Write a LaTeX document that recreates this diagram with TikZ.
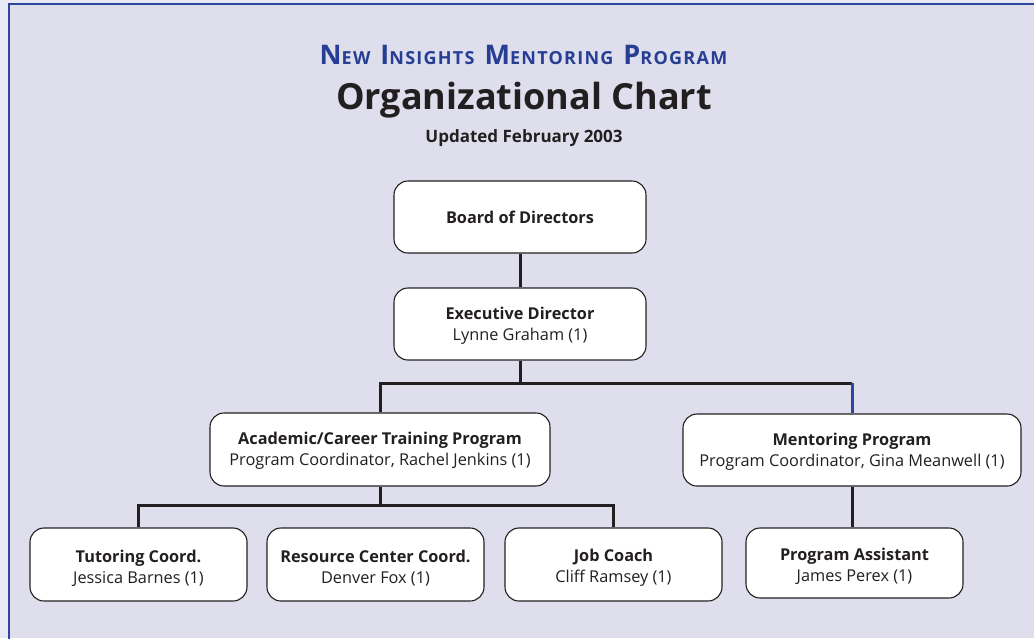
\documentclass[tikz,border=0pt]{standalone}
\usepackage{fontspec}
\setmainfont{Open Sans}
\definecolor{bgpage}{HTML}{E9E9F3}
\definecolor{lav}{HTML}{DEDEEC}
\definecolor{titleblue}{HTML}{263E93}
\definecolor{edgeblue}{HTML}{2D46A0}
\definecolor{ink}{HTML}{231F20}
\newcommand{\bigsc}[2]{{\fontsize{27}{27}\selectfont #1}{\fontsize{18}{20}\selectfont\addfontfeature{LetterSpace=7}#2}}
\newcommand{\lowstrut}{\rule{0pt}{19.5pt}}
\newcommand{\midstrut}{\rule{0pt}{15.5pt}}
\tikzset{
  orgbox/.style={draw=ink, line width=1.1pt, fill=white, rounded corners=14pt,
    align=center, text=ink, font=\fontsize{16.3}{21}\selectfont, inner sep=0pt},
  conn/.style={draw=ink, line width=3pt},
}
\begin{document}
\begin{tikzpicture}[x=1pt,y=-1pt]
\useasboundingbox (0,0) rectangle (1034,638);
\fill[bgpage] (0,0) rectangle (1034,638);
\fill[lav] (9,4) rectangle (1034,638);
\draw[edgeblue, line width=1.6pt] (9,640) -- (9,4) -- (1036,4);

\node[text=titleblue, font=\bfseries] (t1) at (523.5,55)
  {\bigsc{N}{EW}\hspace{10pt}\bigsc{I}{NSIGHTS}\hspace{10pt}\bigsc{M}{ENTORING}\hspace{10pt}\bigsc{P}{ROGRAM}};
\node[text=ink, font=\bfseries\fontsize{36}{40}\selectfont] (t2) at (524,100) {Organizational Chart};
\node[text=ink, font=\bfseries\fontsize{17}{18}\selectfont] (t3) at (524,138) {Updated February 2003};

\node[orgbox, minimum width=252pt, minimum height=72pt] (board) at (520,217) {\textbf{Board of Directors}};
\node[orgbox, minimum width=252pt, minimum height=72pt] (exec) at (520,324) {\midstrut\textbf{Executive Director}\\Lynne Graham (1)};
\node[orgbox, minimum width=340pt, minimum height=73pt] (acad) at (380,449.5) {\midstrut\textbf{Academic/Career Training Program}\\Program Coordinator, Rachel Jenkins (1)};
\node[orgbox, minimum width=338pt, minimum height=72pt] (ment) at (852,450) {\midstrut\textbf{Mentoring Program}\\Program Coordinator, Gina Meanwell (1)};
\node[orgbox, minimum width=217pt, minimum height=73pt] (tut) at (138.5,564.5) {\lowstrut\textbf{Tutoring Coord.}\\Jessica Barnes (1)};
\node[orgbox, minimum width=217pt, minimum height=73pt] (res) at (375.5,564.5) {\lowstrut\textbf{Resource Center Coord.}\\Denver Fox (1)};
\node[orgbox, minimum width=217pt, minimum height=73pt] (job) at (613.5,564.5) {\lowstrut\textbf{Job Coach}\\Cliff Ramsey (1)};
\node[orgbox, minimum width=217pt, minimum height=70pt] (asst) at (854.5,563) {\lowstrut\textbf{Program Assistant}\\James Perex (1)};

\coordinate (busA) at (520,383);
\coordinate (busB) at (380,505);
\coordinate (mcorner) at (ment.north |- busA);

\draw[conn] (board) -- (exec);
\draw[conn] (exec.south) -- (busA);
\draw[conn] (acad.north) |- (mcorner);
\draw[draw=edgeblue, line width=3pt] (mcorner) -- (ment.north);
\draw[conn] (acad.south) -- (busB);
\draw[conn] (tut.north) |- (busB);
\draw[conn] (job.north) |- (busB);
\draw[conn] (ment.south) -- (asst.north -| ment.south);
\end{tikzpicture}
\end{document}
